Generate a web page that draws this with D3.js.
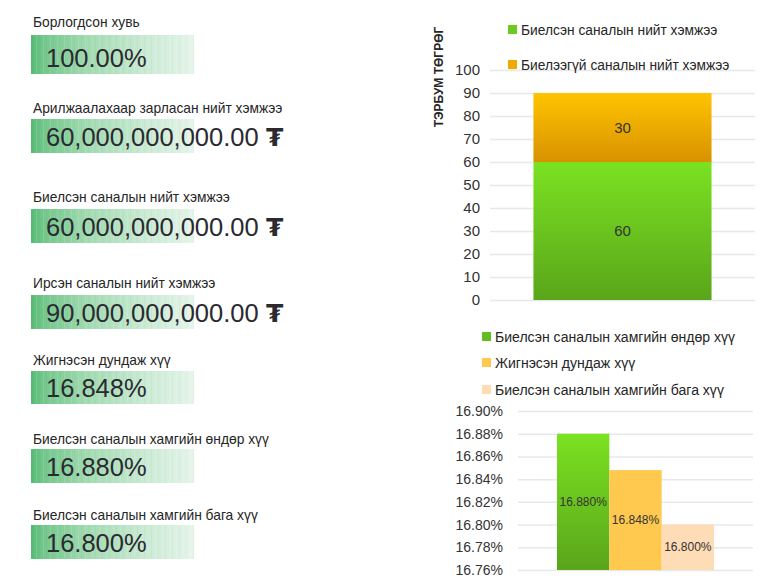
<!DOCTYPE html>
<html><head><meta charset="utf-8">
<script src="https://cdn.jsdelivr.net/npm/d3@7"></script>
<style>
body{margin:0;background:#fff;}
svg{display:block;font-family:"Liberation Sans",Arial,sans-serif;}
</style></head>
<body><svg id="c" width="779" height="588"></svg>
<script>
// ---------- data ----------
const kpiLabels = ["Борлогдсон хувь","Арилжаалахаар зарласан нийт хэмжээ","Биелсэн саналын нийт хэмжээ","Ирсэн саналын нийт хэмжээ","Жигнэсэн дундаж хүү","Биелсэн саналын хамгийн өндөр хүү","Биелсэн саналын хамгийн бага хүү"];
const kpiValues = ["100.00%","60,000,000,000.00","60,000,000,000.00","90,000,000,000.00","16.848%","16.880%","16.800%"];
const kpiCurrency = [false,true,true,true,false,false,false];

const stackSeries = ["Биелсэн саналын нийт хэмжээ","Биелээгүй саналын нийт хэмжээ"];
const stackValues = [60,30];
const stackTicks = [0,10,20,30,40,50,60,70,80,90,100];
const stackAxisTitle = "ТЭРБУМ ТӨГРӨГ";

const rateSeries = ["Биелсэн саналын хамгийн өндөр хүү","Жигнэсэн дундаж хүү","Биелсэн саналын хамгийн бага хүү"];
const rateValues = [16.880,16.848,16.800];
const rateTicks = [16.76,16.78,16.80,16.82,16.84,16.86,16.88,16.90];

// ---------- drawing ----------
const svg = d3.select("#c");
const defs = svg.append("defs");

function vgrad(id, top, bottom){
  const g = defs.append("linearGradient").attr("id",id).attr("x1",0).attr("y1",0).attr("x2",0).attr("y2",1);
  g.append("stop").attr("offset","0%").attr("stop-color",top);
  g.append("stop").attr("offset","100%").attr("stop-color",bottom);
}
vgrad("gGreen","#7be222","#5aa51a");
vgrad("gOrange","#ffc400","#d89200");

const kg = defs.append("linearGradient").attr("id","kpiG").attr("x1",0).attr("x2",1).attr("y1",0).attr("y2",0);
[["0%","#56bb74"],["8%","#74c78c"],["35%","#a3dbb2"],["70%","#cbead4"],["100%","#e6f5ea"]].forEach(s=>kg.append("stop").attr("offset",s[0]).attr("stop-color",s[1]));
const pat = defs.append("pattern").attr("id","stripes").attr("patternUnits","userSpaceOnUse").attr("width",7).attr("height",10);
pat.append("rect").attr("x",1).attr("width",1).attr("height",10).attr("fill","#fff").attr("opacity",0.12);
pat.append("rect").attr("x",4).attr("width",1).attr("height",10).attr("fill","#2f9a55").attr("opacity",0.05);

// KPI panels
const labelY = [27,113,202,288,365,444,520];
const boxY = [35,119,209,295,371,449,525];
const boxH = [39,34,34,34,33,34,34];
kpiLabels.forEach((lab,i)=>{
  const g = svg.append("g");
  g.append("text").attr("transform",`translate(33,${labelY[i]}) scale(0.92,1)`).attr("font-size",15).attr("fill","#262626").text(lab);
  g.append("rect").attr("x",31).attr("y",boxY[i]).attr("width",163).attr("height",boxH[i]).attr("fill","url(#kpiG)");
  g.append("rect").attr("x",31).attr("y",boxY[i]).attr("width",163).attr("height",boxH[i]).attr("fill","url(#stripes)");
  g.append("text").attr("transform",`translate(46,${boxY[i]+boxH[i]-7}) scale(1,1.04)`).attr("font-size",25.5).attr("fill","#2a2a30").text(kpiValues[i]);
  if(kpiCurrency[i]){
    g.append("text").attr("x",266).attr("y",boxY[i]+boxH[i]-7).attr("font-size",25).attr("font-weight","bold").attr("fill","#2a2a30").attr("font-family","DejaVu Sans").text("₮");
  }
});

// Stacked bar chart
const y1 = d3.scaleLinear().domain([0,100]).range([300,70]);
const x1 = d3.scaleBand().domain(["total"]).range([490,755]).paddingInner(0).paddingOuter(0.244);
const ax1 = svg.append("g").attr("transform","translate(490,0)")
  .call(d3.axisLeft(y1).tickValues(stackTicks).tickSize(-265).tickPadding(10));
ax1.select(".domain").remove();
ax1.selectAll(".tick line").attr("stroke","#e8e8e8").attr("stroke-width",1.5);
ax1.selectAll(".tick text").attr("font-size",15).attr("fill","#333").attr("font-family","Liberation Sans, Arial, sans-serif");

const stacked = d3.stack().keys([0,1])([stackValues]);
const fills1 = ["url(#gGreen)","url(#gOrange)"];
svg.append("g").selectAll("rect").data(stacked).join("rect")
  .attr("x",x1("total")).attr("width",x1.bandwidth())
  .attr("y",d=>y1(d[0][1])).attr("height",d=>y1(d[0][0])-y1(d[0][1]))
  .attr("fill",(d,i)=>fills1[i]);
svg.append("g").selectAll("text").data(stacked).join("text")
  .attr("x",x1("total")+x1.bandwidth()/2).attr("y",d=>(y1(d[0][0])+y1(d[0][1]))/2+5)
  .attr("text-anchor","middle").attr("font-size",15).attr("fill","#333")
  .text((d,i)=>stackValues[i]);

svg.append("text").attr("transform","translate(443,77) rotate(-90)").attr("text-anchor","middle")
  .attr("font-size",12).attr("font-weight","bold").attr("fill","#262626").text(stackAxisTitle);

const leg1Col = ["#6cc922","#f0aa00"];
stackSeries.forEach((s,i)=>{
  const yy = [30,65][i];
  svg.append("rect").attr("x",508).attr("y",yy-5).attr("width",9).attr("height",9).attr("fill",leg1Col[i]);
  svg.append("text").attr("transform",`translate(521,${yy+5}) scale(0.95,1)`).attr("font-size",14.5).attr("fill","#262626").text(s);
});

// Rate bar chart
const y2 = d3.scaleLinear().domain([16.76,16.90]).range([570,411]);
const x2 = d3.scaleBand().domain(rateSeries).range([518,753]).paddingInner(0).paddingOuter(0.745);
const ax2 = svg.append("g").attr("transform","translate(518,0)")
  .call(d3.axisLeft(y2).tickValues(rateTicks).tickSize(-235).tickPadding(15).tickFormat(d=>d3.format(".2f")(d)+"%"));
ax2.select(".domain").remove();
ax2.selectAll(".tick line").attr("stroke","#e8e8e8").attr("stroke-width",1.5);
ax2.selectAll(".tick text").attr("font-size",14).attr("fill","#333").attr("font-family","Liberation Sans, Arial, sans-serif");

const fills2 = ["url(#gGreen)","#ffc94f","#fddcb6"];
const leg2Col = ["#63bc20","#ffc94f","#fddcb6"];
svg.append("g").selectAll("rect").data(rateValues).join("rect")
  .attr("x",(d,i)=>x2(rateSeries[i])).attr("width",x2.bandwidth())
  .attr("y",d=>y2(d)).attr("height",d=>y2(16.76)-y2(d))
  .attr("fill",(d,i)=>fills2[i]);
svg.append("g").selectAll("text").data(rateValues).join("text")
  .attr("x",(d,i)=>x2(rateSeries[i])+x2.bandwidth()/2).attr("y",d=>(y2(d)+y2(16.76))/2+4)
  .attr("text-anchor","middle").attr("font-size",12).attr("fill","#333")
  .text(d=>d3.format(".3f")(d)+"%");

rateSeries.forEach((s,i)=>{
  const yy = [337,363,390][i];
  svg.append("rect").attr("x",482).attr("y",yy-5).attr("width",9).attr("height",9).attr("fill",leg2Col[i]);
  svg.append("text").attr("transform",`translate(495,${yy+5}) scale(0.97,1)`).attr("font-size",14.5).attr("fill","#262626").text(s);
});
</script></body></html>
